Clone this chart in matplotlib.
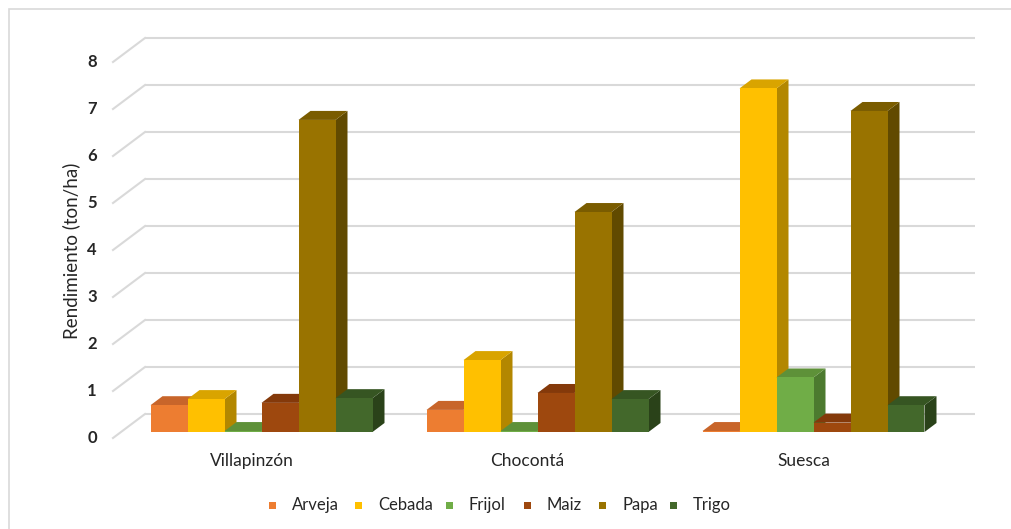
import matplotlib
matplotlib.use("Agg")
import matplotlib.pyplot as plt
from matplotlib.patches import Polygon, Rectangle

plt.rcParams['font.family'] = ['Lato', 'DejaVu Sans']

# --- data -------------------------------------------------------------
municipios = ["Villapinzón", "Chocontá", "Suesca"]
cultivos = ["Arveja", "Cebada", "Frijol", "Maiz", "Papa", "Trigo"]
arveja = [0.57, 0.47, 0.02]
cebada = [0.70, 1.53, 7.31]
frijol = [0.02, 0.02, 1.16]
maiz = [0.62, 0.83, 0.20]
papa = [6.64, 4.68, 6.83]
trigo = [0.72, 0.70, 0.57]
y_ticks = [0, 1, 2, 3, 4, 5, 6, 7, 8]

series = [arveja, cebada, frijol, maiz, papa, trigo]
front_cols = ["#ED7D31", "#FFC000", "#70AD47", "#9E480E", "#997300", "#43682B"]
top_cols = ["#C8652A", "#D9A400", "#5E9139", "#84390A", "#7A5C00", "#365522"]
side_cols = ["#B45A1E", "#B38700", "#4C7A2F", "#6E2F07", "#614A00", "#2A4219"]

# --- figure / coordinate system ----------------------------------------
W, H = 1011, 529
fig = plt.figure(figsize=(W / 100, H / 100), dpi=100)
ax = fig.add_axes([0, 0, 1, 1])
px_x = 276.0   # pixels per category step
px_y = 47.0    # pixels per ton/ha
x0_px, y0_px = 261.5, 432.0
ax.set_xlim((0 - x0_px) / px_x, (W - x0_px) / px_x)
ax.set_ylim((y0_px - H) / px_y, y0_px / px_y)
ax.axis("off")

def dx(p):
    return p / px_x

def dy(p):
    return p / px_y

def fx(p):
    # horizontal pixel position -> data x
    return (p - x0_px) / px_x

def fy(p):
    # vertical pixel position (from top) -> data y
    return (y0_px - p) / px_y

# chart border
ax.add_patch(Rectangle((fx(9), fy(560)), dx(1100), dy(560 - 9),
                       fill=False, edgecolor="#D9D9D9", lw=1.2, zorder=0))

# walls: gridlines on back wall plus slanted side-wall lines
back_dx, back_dy = dx(24), dy(18)
front_dx, front_dy = dx(-8), dy(-6)
left_back = fx(145)
right_back = fx(975)
left_front = fx(113)
for t in y_ticks:
    ax.plot([left_back, right_back], [t + back_dy, t + back_dy],
            color="#D9D9D9", lw=1.5, zorder=1, solid_capstyle="butt")
    ax.plot([left_front, left_back], [t + front_dy, t + back_dy],
            color="#D9D9D9", lw=1.5, zorder=1)
    ax.text(fx(92), t + front_dy, str(t), ha="center", va="center",
            fontsize=12, fontweight="bold", color="#262626")

# bars
bw = dx(37)
bdx, bdy = dx(12), dy(9)
n = len(cultivos)
for i, m in enumerate(municipios):
    start = i - n * bw / 2
    for j in range(n):
        v = series[j][i]
        xl = start + j * bw
        xr = xl + bw
        z = 3 + j * 0.01
        # front face
        ax.add_patch(Polygon([(xl, 0), (xr, 0), (xr, v), (xl, v)],
                             closed=True, facecolor=front_cols[j], edgecolor="none", zorder=z + 0.002))
        # top face
        ax.add_patch(Polygon([(xl, v), (xr, v), (xr + bdx, v + bdy), (xl + bdx, v + bdy)],
                             closed=True, facecolor=top_cols[j], edgecolor="none", zorder=z + 0.001))
        # side face
        ax.add_patch(Polygon([(xr, 0), (xr + bdx, bdy), (xr + bdx, v + bdy), (xr, v)],
                             closed=True, facecolor=side_cols[j], edgecolor="none", zorder=z))
    ax.text(i - dx(10), fy(461), m, ha="center", va="center",
            fontsize=12.5, color="#262626")

# axis title
ax.text(fx(71), fy(251), "Rendimiento (ton/ha)", rotation=90,
        ha="center", va="center", fontsize=13.5, color="#262626")

# legend
leg_x = [272, 358, 449, 527, 602, 673]
for j, c in enumerate(cultivos):
    ax.add_patch(Rectangle((fx(leg_x[j] - 3.5), fy(508.5)), dx(7), dy(7),
                           facecolor=front_cols[j], edgecolor="none"))
    ax.text(fx(leg_x[j] + 20), fy(505), c, ha="left", va="center",
            fontsize=12, color="#262626")

fig.savefig("out.png", dpi=100)
